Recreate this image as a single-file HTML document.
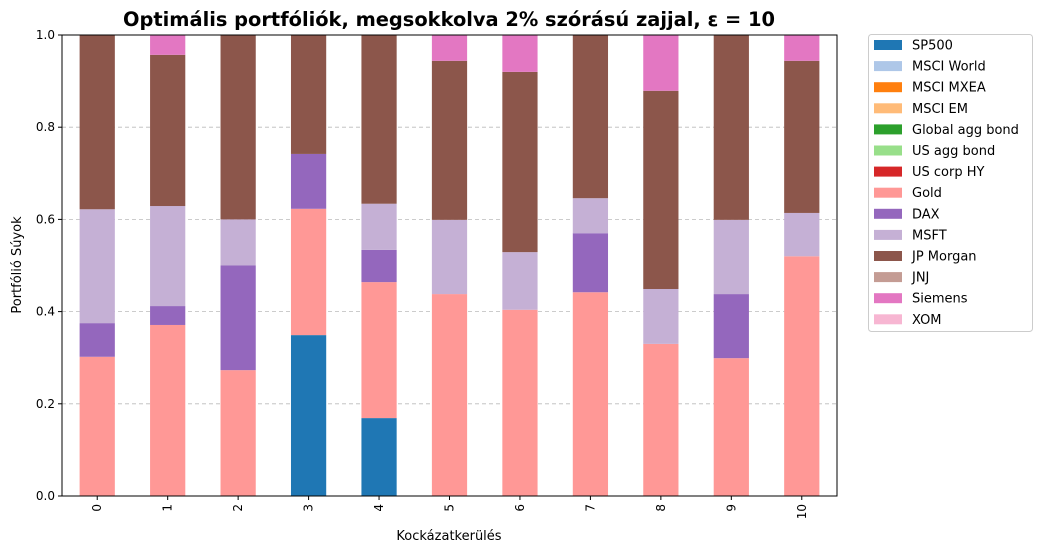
<!DOCTYPE html>
<html><head><meta charset="utf-8"><style>
body{margin:0;background:#fff;font-family:"Liberation Sans","DejaVu Sans",sans-serif;}
svg text{font-family:"DejaVu Sans","Liberation Sans",sans-serif;}
</style></head><body>
<svg id="chart" width="1042" height="553" xmlns="http://www.w3.org/2000/svg">
<text x="449" y="26" text-anchor="middle" font-size="19.4" font-weight="bold">Optimális portfóliók, megsokkolva 2% szórású zajjal, ε = 10</text>
<g id="grid"></g><g id="bars"></g><g id="axes"></g><g id="legend"></g>
<text x="449" y="540" text-anchor="middle" font-size="13">Kockázatkerülés</text>
<text transform="translate(21,265) rotate(-90)" text-anchor="middle" font-size="13">Portfólió Súyok</text>
</svg>
<script>
const categories = ["0","1","2","3","4","5","6","7","8","9","10"];
const assets = ["SP500","MSCI World","MSCI MXEA","MSCI EM","Global agg bond","US agg bond","US corp HY","Gold","DAX","MSFT","JP Morgan","JNJ","Siemens","XOM"];
const colors = ["#1f77b4","#aec7e8","#ff7f0e","#ffbb78","#2ca02c","#98df8a","#d62728","#ff9896","#9467bd","#c5b0d5","#8c564b","#c49c94","#e377c2","#f7b6d2"];
const sp500 = [0,0,0,0.349,0.169,0,0,0,0,0,0];
const gold = [0.302,0.371,0.273,0.274,0.295,0.438,0.404,0.442,0.330,0.299,0.520];
const dax = [0.073,0.041,0.227,0.119,0.070,0,0,0.128,0,0.139,0];
const msft = [0.247,0.217,0.100,0,0.100,0.161,0.125,0.076,0.119,0.161,0.094];
const jpm = [0.378,0.328,0.400,0.258,0.366,0.345,0.391,0.354,0.430,0.401,0.330];
const siemens = [0,0.043,0,0,0,0.056,0.080,0,0.121,0,0.056];
const zeros = categories.map(()=>0);
const series = [sp500,zeros,zeros,zeros,zeros,zeros,zeros,gold,dax,msft,jpm,zeros,siemens,zeros];
const yTicks = [0,0.2,0.4,0.6,0.8,1.0];
const yTickLabels = ["0.0","0.2","0.4","0.6","0.8","1.0"];
const NS="http://www.w3.org/2000/svg";
const L=62,R=837,T=35,B=496;
const step=(R-L)/categories.length, bw=step*0.5;
const y=v=>B-v*(B-T);
const x=i=>L+step*(i+0.5);
function mk(tag,attrs,parent){const e=document.createElementNS(NS,tag);for(const k in attrs)e.setAttribute(k,attrs[k]);parent.appendChild(e);return e;}
const grid=document.getElementById('grid'),bars=document.getElementById('bars'),axes=document.getElementById('axes'),legend=document.getElementById('legend');
yTicks.forEach((t,i)=>{
 const g=mk('line',{x1:L,x2:R,y1:y(t),y2:y(t),stroke:'#bbb','stroke-dasharray':'4,3','stroke-width':0.8},grid);
 
 
 const tk=mk('line',{x1:L-4,x2:L,y1:y(t),y2:y(t),stroke:'#000'},axes);
 
 
 const tl=mk('text',{x:L-7,y:y(t)+4,'text-anchor':'end','font-size':12},axes);
 tl.textContent=yTickLabels[i];
 
 
});
categories.forEach((c,i)=>{
 let cum=0;
 series.forEach((s,k)=>{
  const v=s[i]; if(v<=0)return;
  const r=mk('rect',{x:x(i)-bw/2,y:y(cum+v),width:bw,height:y(cum)-y(cum+v),fill:colors[k]},bars);
  
  
  cum+=v;
 });
 const tk=mk('line',{x1:x(i),x2:x(i),y1:B,y2:B+4,stroke:'#000'},axes);
 
 
 const tl=mk('text',{transform:`translate(${x(i)+4},${B+8}) rotate(-90)`,'text-anchor':'end','font-size':12},axes);
 tl.textContent=c;
 
 
});
const frame=mk('rect',{x:L,y:T,width:R-L,height:B-T,fill:'none',stroke:'#000','stroke-width':1},axes);


const lb=mk('rect',{x:868.5,y:34.5,width:164,height:297,rx:3,fill:'#fff',stroke:'#ccc'},legend);


assets.forEach((a,k)=>{
 const yy=45+k*21.1;
 const p=mk('rect',{x:874,y:yy-5,width:28,height:10,fill:colors[k]},legend);
 
 
 const t=mk('text',{x:912,y:yy+4.5,'font-size':13},legend);
 t.textContent=a;
 
 
});
</script>
</body></html>
